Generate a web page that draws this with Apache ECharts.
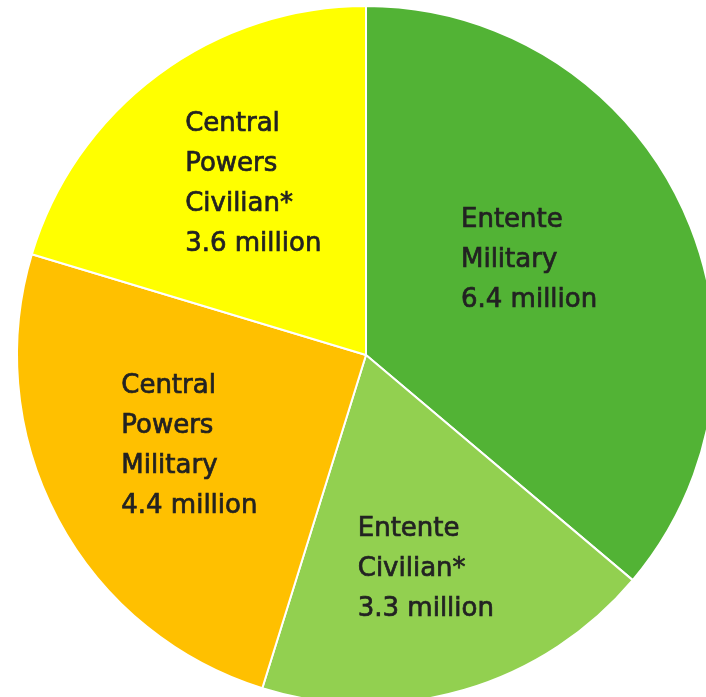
<!DOCTYPE html>
<html>
<head>
<meta charset="utf-8">
<script src="https://cdn.jsdelivr.net/npm/echarts@6/dist/echarts.min.js"></script>
<style>
html,body{margin:0;padding:0;background:#fff;}
#chart{width:706px;height:697px;}
</style>
</head>
<body>
<div id="chart"></div>
<script>
const categories = ['Entente Military', 'Entente Civilian*', 'Central Powers Military', 'Central Powers Civilian*'];
const labelLines = [['Entente', 'Military'], ['Entente', 'Civilian*'], ['Central', 'Powers', 'Military'], ['Central', 'Powers', 'Civilian*']];
const valuesMillions = [6.4, 3.3, 4.4, 3.6];
const colors = ['#52b335', '#92d050', '#ffc000', '#ffff00'];
// label nudges from the default inside position
const labelNudge = [[9, -20], [17, 44], [-13, 8], [0, -28]];

const textStyle = {color: '#222222', fontFamily: 'DejaVu Sans', fontWeight: 'normal', fontSize: 26, lineHeight: 40,
  textBorderColor: '#222222', textBorderWidth: 0.7};

const chart = echarts.init(document.getElementById('chart'), null, {renderer: 'canvas'});
chart.setOption({
  animation: false,
  series: [{
    type: 'pie',
    center: [366, 355],
    radius: 349,
    startAngle: 90,
    clockwise: true,
    avoidLabelOverlap: false,
    itemStyle: {borderColor: '#ffffff', borderWidth: 2},
    label: Object.assign({
      show: true,
      position: 'inside',
      width: 150,
      formatter: function (p) {
        const lines = labelLines[p.dataIndex].concat([p.value + ' million']);
        return lines.map(function (l) { return '{t|' + l + '}'; }).join('\n');
      },
      rich: {t: Object.assign({align: 'left'}, textStyle)}
    }, textStyle),
    labelLine: {show: false},
    labelLayout: function (p) {
      return {dx: labelNudge[p.dataIndex][0], dy: labelNudge[p.dataIndex][1]};
    },
    data: categories.map(function (c, i) {
      return {name: c, value: valuesMillions[i], itemStyle: {color: colors[i]}};
    })
  }]
});
</script>
</body>
</html>
